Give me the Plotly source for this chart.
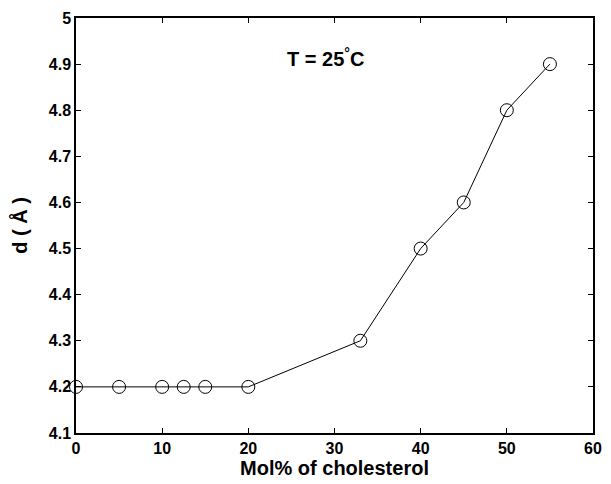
import plotly.graph_objects as go

mol_pct = [0, 5, 10, 12.5, 15, 20, 33, 40, 45, 50, 55]
d_spacing = [4.2, 4.2, 4.2, 4.2, 4.2, 4.2, 4.3, 4.5, 4.6, 4.8, 4.9]
x_ticks = [0, 10, 20, 30, 40, 50, 60]
y_ticks = [4.1, 4.2, 4.3, 4.4, 4.5, 4.6, 4.7, 4.8, 4.9, 5.0]
y_labels = ["4.1", "4.2", "4.3", "4.4", "4.5", "4.6", "4.7", "4.8", "4.9", "5"]

fig = go.Figure()
fig.add_trace(go.Scatter(
    x=mol_pct, y=d_spacing, mode="lines+markers",
    line=dict(color="black", width=1),
    marker=dict(symbol="circle-open", size=13, color="black", line=dict(width=1)),
    cliponaxis=False, showlegend=False,
))

fam = "Liberation Sans, Arial, sans-serif"
axis_common = dict(
    showgrid=False, zeroline=False, showline=True, linecolor="black", linewidth=1.5,
    mirror="ticks", ticks="inside", ticklen=5, tickcolor="black", tickwidth=1,
    tickfont=dict(size=16, family=fam, color="black", weight="bold"),
)
fig.update_xaxes(range=[0, 60], tickvals=x_ticks,
                 ticktext=["<b>%s</b>" % v for v in x_ticks],
                 title=dict(text="Mol% of cholesterol",
                            font=dict(size=20, family=fam, color="black", weight="bold"), standoff=2),
                 **axis_common)
fig.update_yaxes(range=[4.1, 5.0], tickvals=y_ticks,
                 ticktext=["<b>%s</b>" % s for s in y_labels],
                 title=dict(text="d ( Å )",
                            font=dict(size=20, family=fam, color="black", weight="bold"), standoff=16),
                 **axis_common)

fig.add_annotation(x=28.9, y=4.915, xref="x", yref="y", showarrow=False,
                   text="T = 25<sup>°</sup>C",
                   font=dict(size=20, family=fam, color="black", weight="bold"))

fig.update_layout(
    width=611, height=484, margin=dict(l=76, r=9, t=18, b=51),
    plot_bgcolor="white", paper_bgcolor="white",
)
fig.write_html("out.html")
